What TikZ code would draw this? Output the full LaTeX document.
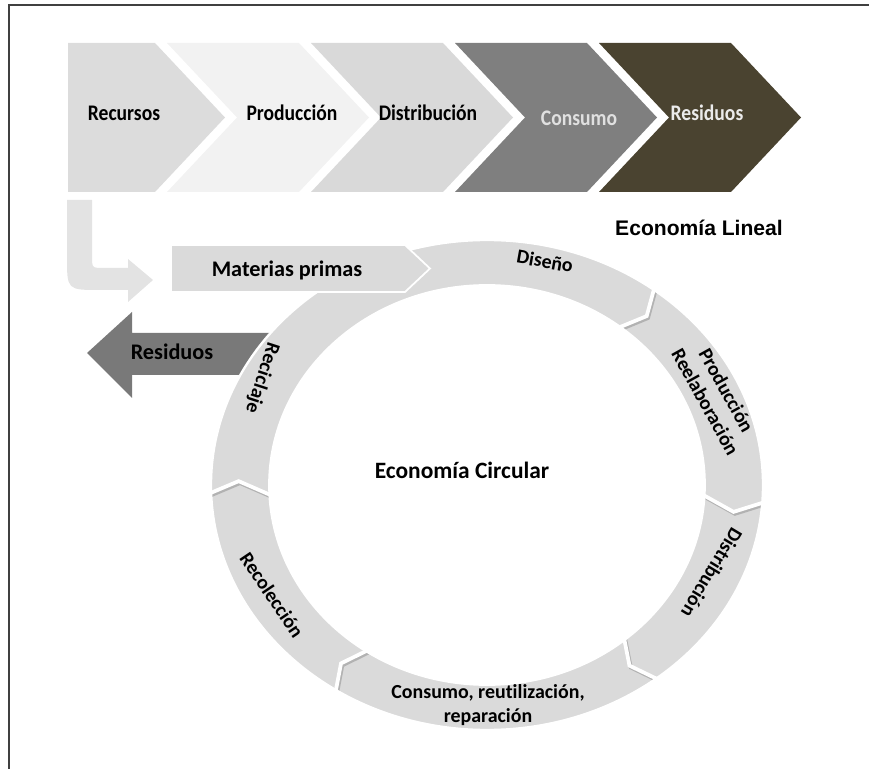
\documentclass[tikz,border=0pt]{standalone}
\usepackage{graphicx}
\usepackage{fontspec}
\setmainfont{Carlito}[Ligatures=NoCommon]
\newfontfamily\pixfont{Liberation Sans}
\newcommand{\narrow}[1]{\scalebox{0.88}[1]{#1}}
\definecolor{chevA}{HTML}{DCDCDC}
\definecolor{chevB}{HTML}{F2F2F2}
\definecolor{chevC}{HTML}{D9D9D9}
\definecolor{chevD}{HTML}{7F7F7F}
\definecolor{chevE}{HTML}{4A4330}
\definecolor{ringgray}{HTML}{DADADA}
\definecolor{lgray}{HTML}{E3E3E3}
\definecolor{resgray}{HTML}{797979}
\begin{document}
\begin{tikzpicture}[
    x=0.03cm, y=-0.03cm,
    lbl/.style={font=\bfseries\fontsize{19}{21}\selectfont, inner sep=0pt},
    ringlbl/.style={font=\bfseries\fontsize{17}{20.5}\selectfont, inner sep=0pt, align=center},
    sepline/.style={white, line width=3.2pt},
    sepshadow/.style={black!30, line width=3.2pt}
]
    \useasboundingbox (0,0) rectangle (869,769);
    \draw[black!75, line width=1.2pt] (9,769) -- (9,5) -- (869,5);

    % economia lineal
    \fill[chevA] (68,43) -- (155,43) -- (225,117.5) -- (155,192) -- (68,192) -- cycle;
    \foreach \i/\c in {1/chevB,2/chevC,3/chevD,4/chevE}
        \fill[\c] ({23+144*\i},43) -- ({155+144*\i},43) -- ({225+144*\i},117.5)
            -- ({155+144*\i},192) -- ({23+144*\i},192) -- ({93+144*\i},117.5) -- cycle;

    \node[lbl] (recursos) at (124,113) {\narrow{Recursos}};
    \node[lbl] (produccion) at (292,113) {\narrow{Producción}};
    \node[lbl] (distribucion) at (428,113) {\narrow{Distribución}};
    \node[lbl, text=black!12] (consumo) at (579,118) {\narrow{Consumo}};
    \node[lbl, text=black!8] (residuos) at (707,113) {\narrow{Residuos}};
    \node[font=\pixfont\bfseries\fontsize{18}{20}\selectfont] (lineal) at (699,228) {Economía Lineal};

    % flecha de recursos
    \fill[lgray] (67,200) -- (92,200) -- (92,256) .. controls (92,268) .. (104,268)
        -- (128,268) -- (128,259) -- (153,280) -- (128,302) -- (128,290)
        -- (100,290) .. controls (67,290) .. (67,257) -- cycle;

    % residuos
    \fill[resgray] (87,353) -- (132,312) -- (132,333) -- (300,333) -- (300,375)
        -- (132,375) -- (132,398) -- cycle;
    \node[lbl, font=\bfseries\fontsize{19}{21}\selectfont] (salida) at (172,352) {Residuos};

    % economia circular
    \begin{scope}[shift={(487,485)}, xscale=276, yscale=-245]
        \fill[ringgray] (0,0) ellipse [x radius=1, y radius=1];
        \begin{scope}
            \clip (0,0) ellipse [x radius=1, y radius=1];
            \foreach \a in {54,-3,-51,-122,183} {
                \draw[sepshadow, shift={(0.005,-0.008)}] (\a:1.05) -- (\a-4:0.9) -- (\a+1.5:0.75);
                \draw[sepline] (\a:1.05) -- (\a-4:0.9) -- (\a+1.5:0.75);
            }
        \end{scope}
        \draw[white, line width=2pt] (0,0) ellipse [x radius=1, y radius=1];
        \fill[white] (0,0) ellipse [x radius=0.793, y radius=0.82];
    \end{scope}

    \fill[ringgray, draw=white, line width=1.5pt] (171,245) -- (405,245) -- (430,268.5)
        -- (405,292) -- (171,292) -- cycle;
    \node[lbl] (materias) at (287,270) {Materias primas};

    \node[ringlbl, rotate=-10] (diseno) at (545,261) {Diseño};
    \node[ringlbl, rotate=-61] (reelab) at (716,396) {Producción\\Reelaboración};
    \node[ringlbl, rotate=-121] (distr) at (712,573) {Distribución};
    \node[ringlbl] (reutil) at (488,705) {Consumo, reutilización,\\reparación};
    \node[ringlbl, rotate=-56] (recol) at (272,595) {Recolección};
    \node[ringlbl, rotate=-108] (recic) at (262,378) {Reciclaje};
    \node[lbl, font=\bfseries\fontsize{20}{22}\selectfont] (circular) at (462,470) {Economía Circular};
\end{tikzpicture}
\end{document}
